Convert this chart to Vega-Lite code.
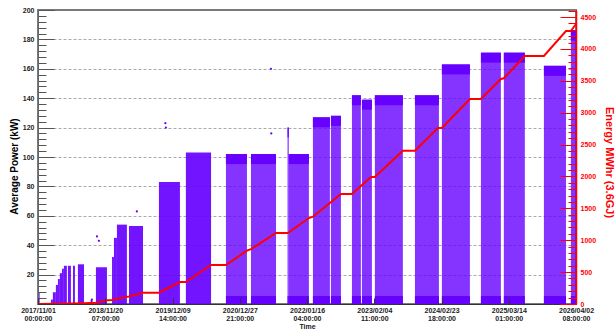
{
  "$schema": "https://vega.github.io/schema/vega-lite/v6.json",
  "width": 538,
  "height": 294,
  "autosize": {"type": "none"},
  "padding": {"left": 38, "top": 10, "right": 40, "bottom": 29},
  "background": "white",
  "config": {"font": "Liberation Sans", "view": {"stroke": "#7a7a7a", "strokeWidth": 2}},
  "datasets": {
    "blocks": [
      {"start": "2017-11-07", "end": "2017-11-12", "top": 8, "texture": "sparse"},
      {"start": "2018-01-14", "end": "2018-01-25", "top": 3, "texture": "dense"},
      {"start": "2018-01-25", "end": "2018-02-11", "top": 8, "texture": "dense"},
      {"start": "2018-02-11", "end": "2018-02-23", "top": 13, "texture": "dense"},
      {"start": "2018-02-23", "end": "2018-03-06", "top": 17, "texture": "dense"},
      {"start": "2018-03-06", "end": "2018-03-18", "top": 21, "texture": "dense"},
      {"start": "2018-03-18", "end": "2018-03-29", "top": 24, "texture": "dense"},
      {"start": "2018-03-29", "end": "2018-04-15", "top": 26, "texture": "dense"},
      {"start": "2018-04-21", "end": "2018-05-08", "top": 26, "texture": "dense"},
      {"start": "2018-05-20", "end": "2018-05-31", "top": 26, "texture": "dense"},
      {"start": "2018-06-17", "end": "2018-07-22", "top": 27, "texture": "dense"},
      {"start": "2018-09-28", "end": "2018-11-30", "top": 25, "texture": "dense"},
      {"start": "2018-12-29", "end": "2019-01-09", "top": 32, "texture": "dense"},
      {"start": "2019-01-09", "end": "2019-01-26", "top": 45, "texture": "dense"},
      {"start": "2019-01-26", "end": "2019-03-24", "top": 54, "texture": "dense"},
      {"start": "2019-04-05", "end": "2019-06-24", "top": 53, "texture": "dense"},
      {"start": "2019-09-23", "end": "2020-01-21", "top": 83, "texture": "dense"},
      {"start": "2020-02-24", "end": "2020-07-17", "top": 103, "texture": "dense"},
      {"start": "2020-10-10", "end": "2021-02-07", "top": 102, "texture": "speckled"},
      {"start": "2021-03-02", "end": "2021-07-23", "top": 102, "texture": "speckled"},
      {"start": "2021-09-27", "end": "2021-10-04", "top": 120, "texture": "speckled"},
      {"start": "2021-10-04", "end": "2022-01-27", "top": 102, "texture": "speckled"},
      {"start": "2022-02-19", "end": "2022-05-27", "top": 127, "texture": "speckled"},
      {"start": "2022-06-02", "end": "2022-07-29", "top": 128, "texture": "speckled"},
      {"start": "2022-09-30", "end": "2022-11-20", "top": 142, "texture": "speckled"},
      {"start": "2022-11-26", "end": "2023-01-22", "top": 139, "texture": "speckled"},
      {"start": "2023-02-08", "end": "2023-07-18", "top": 142, "texture": "speckled"},
      {"start": "2023-09-25", "end": "2024-02-09", "top": 142, "texture": "speckled"},
      {"start": "2024-02-26", "end": "2024-08-04", "top": 163, "texture": "speckled"},
      {"start": "2024-10-06", "end": "2025-01-28", "top": 171, "texture": "speckled"},
      {"start": "2025-02-14", "end": "2025-06-14", "top": 171, "texture": "speckled"},
      {"start": "2025-10-01", "end": "2026-02-04", "top": 162, "texture": "speckled"},
      {"start": "2026-03-04", "end": "2026-04-02T08:00:00Z", "top": 186, "texture": "speckled"}
    ],
    "outliers": [
      {"time": "2018-09-03", "power": 2},
      {"time": "2018-09-05", "power": 3},
      {"time": "2018-10-04", "power": 46},
      {"time": "2018-10-15", "power": 43},
      {"time": "2019-05-20", "power": 63},
      {"time": "2019-10-30", "power": 123},
      {"time": "2019-11-02", "power": 120},
      {"time": "2021-06-24", "power": 160},
      {"time": "2021-06-26", "power": 116}
    ],
    "energy": [
      {"time": "2017-11-01", "energy": 0},
      {"time": "2018-03-06", "energy": 4},
      {"time": "2018-07-22", "energy": 12},
      {"time": "2018-09-28", "energy": 20},
      {"time": "2018-11-30", "energy": 58},
      {"time": "2018-12-29", "energy": 63},
      {"time": "2019-03-24", "energy": 112},
      {"time": "2019-04-05", "energy": 118},
      {"time": "2019-06-24", "energy": 177},
      {"time": "2019-09-23", "energy": 177},
      {"time": "2020-01-21", "energy": 345},
      {"time": "2020-02-24", "energy": 345},
      {"time": "2020-07-17", "energy": 612},
      {"time": "2020-10-10", "energy": 612},
      {"time": "2021-02-07", "energy": 836},
      {"time": "2021-03-02", "energy": 860},
      {"time": "2021-07-23", "energy": 1113},
      {"time": "2021-09-29", "energy": 1113},
      {"time": "2022-01-27", "energy": 1348},
      {"time": "2022-02-19", "energy": 1369},
      {"time": "2022-07-29", "energy": 1725},
      {"time": "2022-09-30", "energy": 1725},
      {"time": "2023-01-17", "energy": 1991},
      {"time": "2023-02-08", "energy": 1991},
      {"time": "2023-07-18", "energy": 2404},
      {"time": "2023-09-25", "energy": 2404},
      {"time": "2024-02-03", "energy": 2760},
      {"time": "2024-02-26", "energy": 2760},
      {"time": "2024-08-04", "energy": 3214},
      {"time": "2024-10-06", "energy": 3214},
      {"time": "2025-01-28", "energy": 3528},
      {"time": "2025-02-14", "energy": 3540},
      {"time": "2025-06-14", "energy": 3889},
      {"time": "2025-10-01", "energy": 3889},
      {"time": "2026-02-04", "energy": 4281},
      {"time": "2026-03-04", "energy": 4281},
      {"time": "2026-04-02T08:00:00Z", "energy": 4390}
    ]
  },
  "layer": [
    {
      "layer": [
        {
          "data": {"name": "blocks"},
          "mark": {"type": "rect", "color": "#6600ff"},
          "encoding": {
            "x": {
              "field": "start",
              "type": "temporal",
              "title": "Time",
              "scale": {
                "type": "utc",
                "nice": false,
                "domain": [
                  {"year": 2017, "month": 11, "date": 1, "utc": true},
                  {"year": 2026, "month": 4, "date": 2, "hours": 8, "utc": true}
                ]
              },
              "axis": {
                "values": [
                  {"year": 2017, "month": 11, "date": 1, "hours": 0, "utc": true},
                  {"year": 2018, "month": 11, "date": 20, "hours": 7, "utc": true},
                  {"year": 2019, "month": 12, "date": 9, "hours": 14, "utc": true},
                  {"year": 2020, "month": 12, "date": 27, "hours": 21, "utc": true},
                  {"year": 2022, "month": 1, "date": 16, "hours": 4, "utc": true},
                  {"year": 2023, "month": 2, "date": 4, "hours": 11, "utc": true},
                  {"year": 2024, "month": 2, "date": 23, "hours": 18, "utc": true},
                  {"year": 2025, "month": 3, "date": 14, "hours": 1, "utc": true},
                  {"year": 2026, "month": 4, "date": 2, "hours": 8, "utc": true}
                ],
                "tickCount": 50,
                "labelExpr": "[utcFormat(datum.value, '%Y/%m/%d'), utcFormat(datum.value, '%H:%M:%S')]",
                "labelFont": "Liberation Sans",
                "labelFontSize": 7,
                "labelFontWeight": "bold",
                "labelColor": "#222222",
                "labelLineHeight": 8,
                "labelFlush": false,
                "labelOverlap": false,
                "labelBound": false,
                "labelPadding": 8,
                "tickSize": -6,
                "tickColor": "#333333",
                "domainColor": "#333333",
                "grid": false,
                "zindex": 1,
                "titleFont": "Liberation Sans",
                "titleFontSize": 7,
                "titleFontWeight": "bold",
                "titleColor": "#222222",
                "titleY": 22,
                "titleBaseline": "middle"
              }
            },
            "x2": {"field": "end"},
            "y": {
              "field": "top",
              "type": "quantitative",
              "title": "Average Power (kW)",
              "scale": {"domain": [0, 200], "nice": false},
              "axis": {
                "orient": "left",
                "values": [0, 4, 8, 12, 16, 20, 24, 28, 32, 36, 40, 44, 48, 52, 56, 60, 64, 68, 72, 76, 80, 84, 88, 92, 96, 100, 104, 108, 112, 116, 120, 124, 128, 132, 136, 140, 144, 148, 152, 156, 160, 164, 168, 172, 176, 180, 184, 188, 192, 196, 200],
                "tickCount": 200,
                "format": "d",
                "tickSize": {"condition": {"test": "datum.value % 20 === 0", "value": -16}, "value": -8},
                "tickColor": "#555555",
                "labelExpr": "datum.value % 20 === 0 && datum.value > 0 ? datum.label : ''",
                "labelPadding": 20,
                "labelFont": "Liberation Sans",
                "labelFontSize": 7,
                "labelFontWeight": "bold",
                "labelColor": "#222222",
                "labelOverlap": false,
                "labelFlush": false,
                "grid": true,
                "gridColor": "#aaaaaa",
                "gridDash": [3, 2],
                "gridWidth": 1,
                "gridOpacity": {"condition": {"test": "datum.value % 20 === 0 && datum.value > 0 && datum.value < 200", "value": 1}, "value": 0},
                "domainColor": "#666666",
                "titleFont": "Liberation Sans",
                "titleFontSize": 10,
                "titleFontWeight": "bold",
                "titleColor": "#000000",
                "titleX": -24,
                "titleY": 156,
                "titleAngle": -90,
                "titleAlign": "center",
                "titleBaseline": "middle"
              }
            },
            "y2": {"datum": 0},
            "opacity": {
              "field": "texture",
              "type": "nominal",
              "scale": {"domain": ["dense", "speckled", "sparse"], "range": [0.92, 0.68, 0.35]},
              "legend": null
            }
          }
        },
        {
          "data": {"name": "blocks"},
          "transform": [{"filter": "datum.texture === 'speckled'"}],
          "mark": {"type": "rule", "color": "#6600ff", "strokeWidth": 10, "yOffset": 5, "strokeCap": "butt"},
          "encoding": {
            "x": {"field": "start", "type": "temporal", "title": "Time"},
            "x2": {"field": "end"},
            "y": {"field": "top", "type": "quantitative", "title": "Average Power (kW)"}
          }
        },
        {
          "data": {"name": "blocks"},
          "transform": [{"filter": "datum.texture === 'speckled'"}],
          "mark": {"type": "rule", "color": "#6600ff", "strokeWidth": 8, "yOffset": -4, "strokeCap": "butt"},
          "encoding": {
            "x": {"field": "start", "type": "temporal", "title": "Time"},
            "x2": {"field": "end"},
            "y": {"datum": 0, "type": "quantitative", "title": "Average Power (kW)"}
          }
        },
        {
          "data": {"name": "outliers"},
          "mark": {"type": "circle", "color": "#6600ff", "size": 5, "opacity": 1},
          "encoding": {
            "x": {"field": "time", "type": "temporal", "title": "Time"},
            "y": {"field": "power", "type": "quantitative", "title": "Average Power (kW)"}
          }
        }
      ]
    },
    {
      "data": {"name": "energy"},
      "mark": {"type": "line", "color": "#ff0000", "strokeWidth": 2},
      "encoding": {
        "x": {"field": "time", "type": "temporal", "title": "Time"},
        "y": {
          "field": "energy",
          "type": "quantitative",
          "title": "Energy MWhr (3.6GJ)",
          "scale": {"domain": [0, 4610], "nice": false},
          "axis": {
            "orient": "right",
            "values": [0, 100, 200, 300, 400, 500, 600, 700, 800, 900, 1000, 1100, 1200, 1300, 1400, 1500, 1600, 1700, 1800, 1900, 2000, 2100, 2200, 2300, 2400, 2500, 2600, 2700, 2800, 2900, 3000, 3100, 3200, 3300, 3400, 3500, 3600, 3700, 3800, 3900, 4000, 4100, 4200, 4300, 4400, 4500, 4600],
            "tickCount": 200,
            "format": "d",
            "tickSize": {"condition": {"test": "datum.value % 500 === 0", "value": -16}, "value": -8},
            "tickColor": "#ff0000",
            "domainColor": "#ff0000",
            "domainWidth": 1.5,
            "labelExpr": "datum.value % 500 === 0 ? datum.label : ''",
            "labelPadding": 20,
            "labelFont": "Liberation Sans",
            "labelFontSize": 7,
            "labelFontWeight": "bold",
            "labelColor": "#ff0000",
            "labelOverlap": false,
            "labelFlush": false,
            "grid": false,
            "zindex": 1,
            "titleFont": "Liberation Sans",
            "titleFontSize": 11,
            "titleFontWeight": "bold",
            "titleColor": "#ff0000",
            "titleX": 32,
            "titleY": 152,
            "titleAngle": 90,
            "titleAlign": "center",
            "titleBaseline": "middle"
          }
        }
      }
    }
  ],
  "resolve": {"scale": {"y": "independent"}}
}
